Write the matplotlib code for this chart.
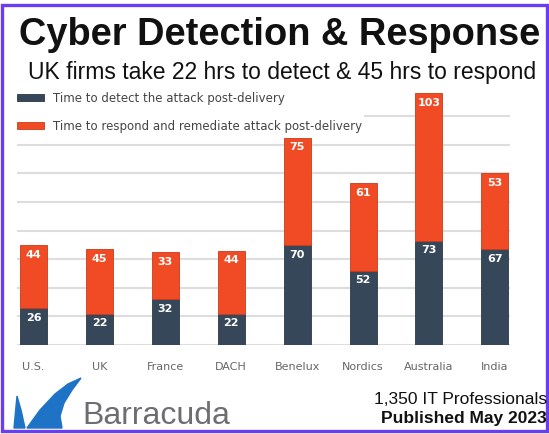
import matplotlib.pyplot as plt
from matplotlib.patches import Polygon, Rectangle

# data (hours)
countries = ['U.S.', 'UK', 'France', 'DACH', 'Benelux', 'Nordics', 'Australia', 'India']
detect = [26, 22, 32, 22, 70, 52, 73, 67]
respond = [44, 45, 33, 44, 75, 61, 103, 53]

dark = '#37475a'
orange = '#f04b24'

W, H = 549, 434
fig = plt.figure(figsize=(W / 100, H / 100), dpi=100)

# overlay axes in pixel coords for border, logo and footer
bg = fig.add_axes([0, 0, 1, 1], zorder=0)
bg.set_xlim(0, W)
bg.set_ylim(H, 0)
bg.axis('off')
bg.patch.set_alpha(0)
bg.add_patch(Rectangle((1.5, 5), 545.5, 426, fill=False, edgecolor='#6a3df2', linewidth=2.4))

# rough Barracuda fin logo
bg.add_patch(Polygon([(14, 428), (17, 396), (21, 410), (25, 428)], color='#1f73c6'))
bg.add_patch(Polygon([(27, 428), (40, 410), (55, 394), (68, 384), (81, 378),
                      (72, 390), (64, 403), (60, 416), (62, 428)], color='#1f73c6'))
bg.text(82, 416, 'Barracuda', fontsize=23, family='Liberation Sans', color='#6d6e71',
        va='center', ha='left')

bg.text(280, 35, 'Cyber Detection & Response', fontsize=27.4, fontweight='bold',
        family='Liberation Sans', ha='center', va='center', color='#111111')
bg.text(282, 72, 'UK firms take 22 hrs to detect & 45 hrs to respond', fontsize=16.5,
        family='Liberation Sans', ha='center', va='center', color='#111111')
bg.text(547, 399, '1,350 IT Professionals', fontsize=12.5, family='Liberation Sans',
        ha='right', va='center', color='#111111')
bg.text(547, 418, 'Published May 2023', fontsize=12.5, fontweight='bold',
        family='Liberation Sans', ha='right', va='center', color='#111111')

# main chart
ax = fig.add_axes([17 / W, 1 - 345 / H, 493 / W, 254.5 / H], zorder=1)
ax.patch.set_alpha(0)
x = list(range(len(countries)))
ax.bar(x, detect, width=0.41, color=dark, edgecolor='#2b3846', linewidth=0.6,
       label='Time to detect the attack post-delivery', zorder=2)
ax.bar(x, respond, width=0.41, bottom=detect, color=orange, edgecolor='#c93b1a',
       linewidth=0.6, label='Time to respond and remediate attack post-delivery', zorder=2)

for i in x:
    ax.annotate(str(detect[i]), (i, detect[i]), xytext=(0, -7), textcoords='offset points',
                ha='center', va='center', color='white', fontsize=8, fontweight='bold', zorder=3)
    ax.annotate(str(respond[i]), (i, detect[i] + respond[i]), xytext=(0, -7),
                textcoords='offset points', ha='center', va='center', color='white',
                fontsize=8, fontweight='bold', zorder=3)

ax.set_xlim(-0.25, 7.23)
ax.set_ylim(0, 178)
ax.set_yticks(range(0, 161, 20))
ax.set_yticklabels([])
ax.yaxis.grid(True, color='#dddddd', linewidth=1.5, zorder=0)
ax.set_axisbelow(True)
ax.tick_params(length=0, pad=12)
ax.set_xticks(x)
ax.set_xticklabels(countries, fontsize=8, color='#666666')
for s in ax.spines.values():
    s.set_visible(False)

leg = ax.legend(loc='upper left', bbox_to_anchor=(15 / W, 1 - 90 / H),
                bbox_transform=fig.transFigure, fontsize=8.5, frameon=True,
                facecolor='white', edgecolor='none', framealpha=1, fancybox=False,
                handlelength=2.3, handleheight=0.55, handletextpad=0.75,
                labelspacing=1.3, borderpad=0.15, borderaxespad=0)
for t in leg.get_texts():
    t.set_color('#444444')

fig.savefig('out.png', dpi=100)
